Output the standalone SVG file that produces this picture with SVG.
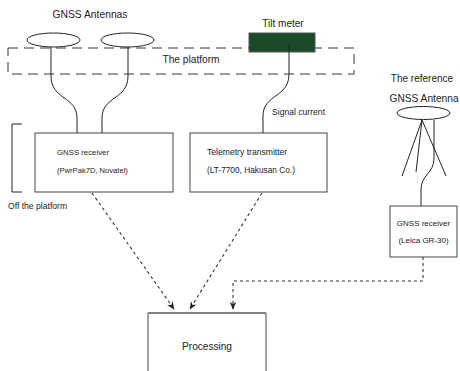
<svg xmlns="http://www.w3.org/2000/svg" width="460" height="371" viewBox="0 0 460 371">
<defs>
<style>
text{font-family:"Liberation Sans",Arial,sans-serif;fill:#222}
.box{fill:#fff;stroke:#444;stroke-width:1}
.ant{fill:#fff;stroke:#222;stroke-width:1}
.cable{fill:none;stroke:#222;stroke-width:1}
.flow{fill:none;stroke:#333;stroke-width:1.1;stroke-dasharray:3,3}
.plat{fill:none;stroke:#333;stroke-width:1;stroke-dasharray:10,6}
</style>
<marker id="arr" viewBox="0 0 10 10" refX="9" refY="5" markerWidth="8" markerHeight="8" markerUnits="userSpaceOnUse" orient="auto">
<path d="M0,1 L10,5 L0,9 L3,5 Z" fill="#222"/>
</marker>
</defs>

<g id="platform">
<rect x="8" y="48" width="346" height="26" class="plat"/>
<text x="191" y="63" font-size="10.2" text-anchor="middle">The platform</text>
</g>

<g id="gnss-antennas">
<text x="90" y="18" font-size="10.3" text-anchor="middle">GNSS Antennas</text>
<ellipse cx="53.5" cy="40" rx="26.5" ry="7" class="ant"/>
<ellipse cx="127.5" cy="40" rx="26.5" ry="7" class="ant"/>
</g>

<g id="tilt-meter">
<text x="283" y="27" font-size="10" text-anchor="middle">Tilt meter</text>
<rect x="249" y="33" width="66" height="19" fill="#1b4a2a" stroke="#555" stroke-width="1"/>
</g>

<g id="off-platform">
<path d="M22,124 H12 V192 H22" fill="none" stroke="#222" stroke-width="1"/>
<text x="8" y="209" font-size="8.6">Off the platform</text>
</g>

<g id="connectors">
<path class="cable" d="M51,47 V76 C51,100 77,96 77,118 V133"/>
<path class="cable" d="M128,47 V76 C128,100 102,96 102,118 V133"/>
<path class="cable" d="M289,44 V74 C289,98 263,94 263,116 V133"/>
<path class="cable" d="M422,120 L402,176 M422,120 L416,172 M422,120 L446,176"/>
<path class="cable" d="M434,120 V158 C434,174 421,174 421,190 V206"/>
<path class="flow" d="M92,193 L174,309" marker-end="url(#arr)"/>
<path class="flow" d="M262,193 L190,309" marker-end="url(#arr)"/>
<path class="flow" d="M423,257 V281 H233 V309" marker-end="url(#arr)"/>
<text x="272" y="115" font-size="8.6">Signal current</text>
</g>

<g id="gnss-receiver">
<rect x="35" y="133" width="138" height="59" class="box"/>
<text x="57" y="155" font-size="7.8">GNSS receiver</text>
<text x="57" y="173" font-size="7.6">(PwrPak7D, Novatel)</text>
</g>

<g id="telemetry">
<rect x="190" y="133" width="137" height="59" class="box"/>
<text x="207" y="155" font-size="8.6">Telemetry transmitter</text>
<text x="207" y="173" font-size="8.3">(LT-7700, Hakusan Co.)</text>
</g>

<g id="reference-antenna">
<text x="422" y="82" font-size="10" text-anchor="middle">The reference</text>
<text x="424" y="102" font-size="10.2" text-anchor="middle">GNSS Antenna</text>
<ellipse cx="423.5" cy="113" rx="26.5" ry="6.5" class="ant"/>
</g>

<g id="reference-receiver">
<rect x="390" y="206" width="67" height="51" class="box"/>
<text x="423.5" y="226" font-size="8" text-anchor="middle">GNSS receiver</text>
<text x="423.5" y="243" font-size="8" text-anchor="middle">(Leica GR-30)</text>
</g>

<g id="processing">
<path d="M148,371 V313 H266 V371" fill="#fff" stroke="#444" stroke-width="1"/>
<line x1="148" y1="313" x2="266" y2="313" stroke="#777" stroke-width="1.6"/>
<text x="207" y="350" font-size="10.1" text-anchor="middle">Processing</text>
</g>
</svg>
